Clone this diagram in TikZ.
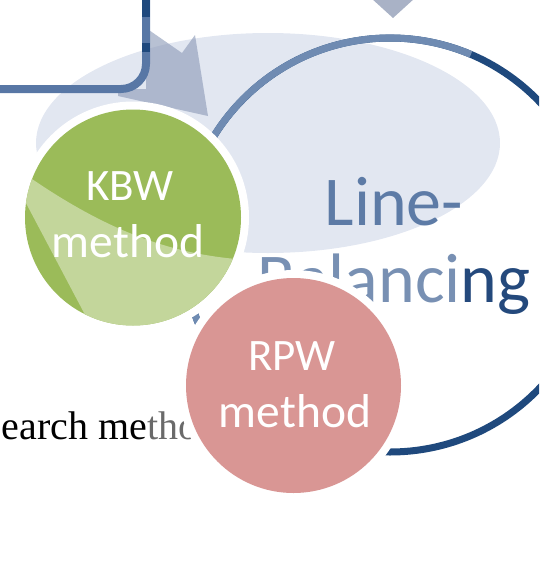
\documentclass[tikz,border=0pt]{standalone}
\usepackage{fontspec}
\setmainfont{Carlito}
\newfontfamily\serifface{Liberation Serif}
\usetikzlibrary{shapes.geometric}
\definecolor{ellfill}{HTML}{E2E7F1}
\definecolor{darkblue}{HTML}{1F497D}
\definecolor{midblue}{HTML}{5877A5}
\definecolor{lightblue}{HTML}{6F8BB2}
\definecolor{arrowgray}{HTML}{8D9BB8}
\definecolor{topgray}{HTML}{A9B2C6}
\definecolor{kbwgreen}{HTML}{9BBB59}
\definecolor{kbwlight}{HTML}{C3D69B}
\definecolor{rpwpink}{HTML}{D99694}
\definecolor{txtblue}{HTML}{5D7BA6}
\definecolor{txtlight}{HTML}{7890B3}
\definecolor{txtdark}{HTML}{24497C}
\definecolor{fadegray}{HTML}{6A6A6A}
\begin{document}
\begin{tikzpicture}[x=1pt,y=-1pt,
  disc/.style={circle, inner sep=0pt, outer sep=0pt},
  ringwhite/.style={disc, fill=white},
  wtext/.style={text=white, inner sep=0pt, anchor=base, font=\fontsize{45}{45}\selectfont},
  wtextb/.style={wtext, font=\fontsize{47.5}{47.5}\selectfont},
  bigtext/.style={inner sep=0pt, anchor=base, font=\fontsize{70}{70}\selectfont},
  bandline/.style={line width=8pt, rounded corners=25pt}]
\useasboundingbox (0,0) rectangle (539,568);
\begin{scope}
\clip (0,0) rectangle (539,568);
% light background ellipse
\node[ellipse, fill=ellfill, inner sep=0pt, outer sep=0pt, minimum width=464pt, minimum height=220pt] (bg) at (268,143) {};
% top arrow head
\fill[topgray] (371,-2) -- (415,-2) -- (393,18) -- cycle;
% left arrow head
\fill[arrowgray, opacity=0.62] (146,28) -- (182,53) -- (195,35) -- (208,116) -- (118,96) -- (118,89) -- (146,89) -- cycle;
% rounded frame line
\draw[midblue, bandline] (-20,89) -- (146,89) -- (146,-20);
\draw[darkblue, line width=8pt] (146,-2) -- (146,17);
\draw[darkblue, line width=8pt] (146,43) -- (146,52);
% big circle
\node[disc, draw=darkblue, line width=7pt, minimum size=414pt] (lb) at (390,245) {};
\draw[lightblue, line width=7pt] (lb.67) arc[start angle=67, end angle=205, radius=207pt];
% Line-Balancing text
\node[bigtext, text=txtblue] (lb1) at (394,225) {Line-};
\node[bigtext] (lb2) at (394,302) {{\color{txtlight}Balanci}{\color{txtdark}ng}};
% partial body text
\node[inner sep=0pt, anchor=base west, font=\serifface\fontsize{40}{40}\selectfont] (srch) at (1.5,439) {earch me{\color{fadegray}tho}};
% KBW circle
\node[ringwhite, minimum size=232pt] (kbwring) at (133,217.5) {};
\node[disc, fill=kbwgreen, minimum size=216pt] (kbw) at (133,217.5) {};
\begin{scope}
\clip (kbw.center) circle (108pt);
\fill[kbwlight] (5,160) .. controls (90,222) and (160,255) .. (250,260) -- (250,345) -- (101,345) -- (27,205) -- (8,170) -- cycle;
\end{scope}
\node[wtext] (kbw1) at (130,200) {KBW};
\node[wtextb] (kbw2) at (128,257) {method};
% RPW circle
\node[ringwhite, minimum size=231pt] (rpwring) at (293.5,385.5) {};
\node[disc, fill=rpwpink, minimum size=215pt] (rpw) at (293.5,385.5) {};
\node[wtext] (rpw1) at (292,370) {RPW};
\node[wtextb] (rpw2) at (295,427) {method};
\end{scope}
\end{tikzpicture}
\end{document}
